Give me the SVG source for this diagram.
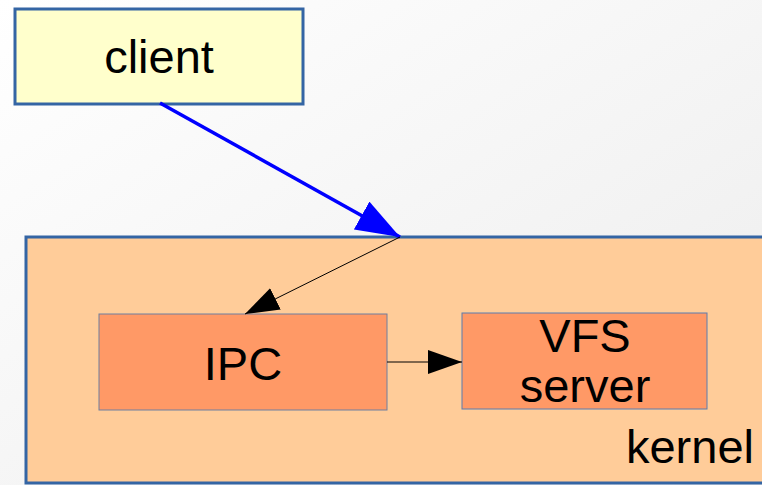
<svg xmlns="http://www.w3.org/2000/svg" width="762" height="485" viewBox="0 0 762 485">
<defs>
<linearGradient id="bg" x1="0" y1="0" x2="1" y2="1">
<stop offset="0" stop-color="#ffffff"/>
<stop offset="1" stop-color="#ececec"/>
</linearGradient>
<marker id="abl" markerWidth="44" markerHeight="32" refX="44" refY="16" orient="auto" markerUnits="userSpaceOnUse" viewBox="0 0 44 32">
<path d="M0,0 L44,16 L0,32 z" fill="#0000ff"/>
</marker>
<marker id="ak" markerWidth="34" markerHeight="24" refX="34" refY="12" orient="auto" markerUnits="userSpaceOnUse" viewBox="0 0 34 24">
<path d="M0,0 L34,12 L0,24 z" fill="#000"/>
</marker>
</defs>
<style>
text{font-family:"Liberation Sans",Arial,sans-serif;font-size:47px;fill:#000}
.c{text-anchor:middle}
</style>
<rect x="0" y="0" width="762" height="485" fill="url(#bg)"/>
<g id="kernel">
<rect x="26" y="237" width="740" height="246" fill="#ffcc99" stroke="#3465a4" stroke-width="3"/>
<text x="754" y="463" text-anchor="end">kernel</text>
</g>
<g id="client">
<rect x="15" y="9" width="288" height="95" fill="#ffffcc" stroke="#3465a4" stroke-width="3"/>
<text class="c" x="159" y="73">client</text>
</g>
<g id="ipc">
<rect x="99" y="314" width="288" height="96" fill="#ff9966" stroke="#6f7fa0" stroke-width="1"/>
<text class="c" x="243" y="380">IPC</text>
</g>
<g id="vfs">
<rect x="462" y="313" width="245" height="96" fill="#ff9966" stroke="#5a7cb0" stroke-width="1"/>
<text class="c" x="585" y="352">VFS</text>
<text class="c" x="585" y="402">server</text>
</g>
<g id="connectors">
<line x1="160" y1="103" x2="400" y2="237" stroke="#0000ff" stroke-width="3.5" marker-end="url(#abl)"/>
<line x1="400" y1="237" x2="245" y2="314" stroke="#000" stroke-width="1" marker-end="url(#ak)"/>
<line x1="387" y1="362" x2="462" y2="362" stroke="#000" stroke-width="1" marker-end="url(#ak)"/>
</g>
</svg>
